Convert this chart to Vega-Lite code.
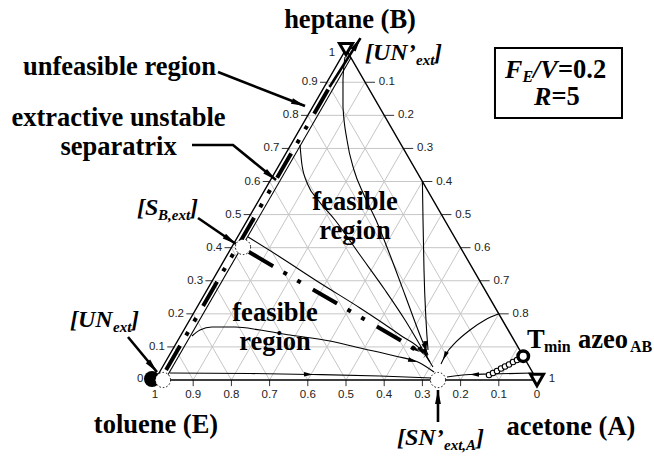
{
  "$schema": "https://vega.github.io/schema/vega-lite/v6.json",
  "width": 654,
  "height": 456,
  "autosize": "none",
  "padding": 0,
  "background": "white",
  "config": {"view": {"stroke": null}},
  "datasets": {
    "grid": [
      {"x":0.05,"y":0.0866,"x2":0.95,"y2":0.0866},{"x":0.1,"y":0.1732,"x2":0.9,"y2":0.1732},{"x":0.15,"y":0.2598,"x2":0.85,"y2":0.2598},
      {"x":0.2,"y":0.3464,"x2":0.8,"y2":0.3464},{"x":0.25,"y":0.433,"x2":0.75,"y2":0.433},{"x":0.3,"y":0.5196,"x2":0.7,"y2":0.5196},
      {"x":0.35,"y":0.6062,"x2":0.65,"y2":0.6062},{"x":0.4,"y":0.6928,"x2":0.6,"y2":0.6928},{"x":0.45,"y":0.7794,"x2":0.55,"y2":0.7794},
      {"x":0.1,"y":0,"x2":0.55,"y2":0.7794},{"x":0.2,"y":0,"x2":0.6,"y2":0.6928},{"x":0.3,"y":0,"x2":0.65,"y2":0.6062},
      {"x":0.4,"y":0,"x2":0.7,"y2":0.5196},{"x":0.5,"y":0,"x2":0.75,"y2":0.433},{"x":0.6,"y":0,"x2":0.8,"y2":0.3464},
      {"x":0.7,"y":0,"x2":0.85,"y2":0.2598},{"x":0.8,"y":0,"x2":0.9,"y2":0.1732},{"x":0.9,"y":0,"x2":0.95,"y2":0.0866},
      {"x":0.1,"y":0,"x2":0.05,"y2":0.0866},{"x":0.2,"y":0,"x2":0.1,"y2":0.1732},{"x":0.3,"y":0,"x2":0.15,"y2":0.2598},
      {"x":0.4,"y":0,"x2":0.2,"y2":0.3464},{"x":0.5,"y":0,"x2":0.25,"y2":0.433},{"x":0.6,"y":0,"x2":0.3,"y2":0.5196},
      {"x":0.7,"y":0,"x2":0.35,"y2":0.6062},{"x":0.8,"y":0,"x2":0.4,"y2":0.6928},{"x":0.9,"y":0,"x2":0.45,"y2":0.7794}
    ],
    "ticks": [
      {"x":0.05,"y":0.0866,"x2":0.032,"y2":0.0866},{"x":0.1,"y":0.1732,"x2":0.082,"y2":0.1732},{"x":0.15,"y":0.2598,"x2":0.132,"y2":0.2598},
      {"x":0.2,"y":0.3464,"x2":0.182,"y2":0.3464},{"x":0.25,"y":0.433,"x2":0.232,"y2":0.433},{"x":0.3,"y":0.5196,"x2":0.282,"y2":0.5196},
      {"x":0.35,"y":0.6062,"x2":0.332,"y2":0.6062},{"x":0.4,"y":0.6928,"x2":0.382,"y2":0.6928},{"x":0.45,"y":0.7794,"x2":0.432,"y2":0.7794},
      {"x":0.9,"y":0.1732,"x2":0.926,"y2":0.1732},{"x":0.85,"y":0.2598,"x2":0.876,"y2":0.2598},{"x":0.8,"y":0.3464,"x2":0.826,"y2":0.3464},
      {"x":0.75,"y":0.433,"x2":0.776,"y2":0.433},{"x":0.7,"y":0.5196,"x2":0.726,"y2":0.5196},{"x":0.65,"y":0.6062,"x2":0.676,"y2":0.6062},
      {"x":0.6,"y":0.6928,"x2":0.626,"y2":0.6928},{"x":0.55,"y":0.7794,"x2":0.576,"y2":0.7794},
      {"x":0.1,"y":0,"x2":0.1,"y2":-0.016},{"x":0.2,"y":0,"x2":0.2,"y2":-0.016},{"x":0.3,"y":0,"x2":0.3,"y2":-0.016},
      {"x":0.4,"y":0,"x2":0.4,"y2":-0.016},{"x":0.5,"y":0,"x2":0.5,"y2":-0.016},{"x":0.6,"y":0,"x2":0.6,"y2":-0.016},
      {"x":0.7,"y":0,"x2":0.7,"y2":-0.016},{"x":0.8,"y":0,"x2":0.8,"y2":-0.016},{"x":0.9,"y":0,"x2":0.9,"y2":-0.016}
    ],
    "frame": [
      {"i":0,"x":0,"y":0},{"i":1,"x":1,"y":0},{"i":2,"x":0.5,"y":0.866},{"i":3,"x":0,"y":0}
    ],
    "curves": [
      {"c":"inner","i":0,"x":0.026,"y":0},{"c":"inner","i":1,"x":0.513,"y":0.8435},
      {"c":"c1","i":0,"x":0.039,"y":0.0183},{"c":"c1","i":1,"x":0.2487,"y":0.017},{"c":"c1","i":2,"x":0.4136,"y":0.0144},{"c":"c1","i":3,"x":0.589,"y":0.0105},{"c":"c1","i":4,"x":0.7251,"y":0.0052},
      {"c":"c2","i":0,"x":0.9895,"y":0.0183},{"c":"c2","i":1,"x":0.877,"y":0.0157},{"c":"c2","i":2,"x":0.8246,"y":0.0144},{"c":"c2","i":3,"x":0.7644,"y":0.0079},
      {"c":"c4","i":0,"x":0.0969,"y":0.1152},{"c":"c4","i":1,"x":0.1178,"y":0.1309},{"c":"c4","i":2,"x":0.1492,"y":0.1387},{"c":"c4","i":3,"x":0.2094,"y":0.1387},
      {"c":"c4","i":4,"x":0.2749,"y":0.1309},{"c":"c4","i":5,"x":0.3534,"y":0.1178},{"c":"c4","i":6,"x":0.4581,"y":0.1021},{"c":"c4","i":7,"x":0.5366,"y":0.0838},
      {"c":"c4","i":8,"x":0.6283,"y":0.0628},{"c":"c4","i":9,"x":0.6937,"y":0.0445},{"c":"c4","i":10,"x":0.7304,"y":0.0209},
      {"c":"c6","i":0,"x":0.2435,"y":0.3743},{"c":"c6","i":1,"x":0.3272,"y":0.322},{"c":"c6","i":2,"x":0.4319,"y":0.2539},{"c":"c6","i":3,"x":0.5366,"y":0.1885},
      {"c":"c6","i":4,"x":0.6414,"y":0.1178},{"c":"c6","i":5,"x":0.7016,"y":0.0733},{"c":"c6","i":6,"x":0.7277,"y":0.034},
      {"c":"c7","i":0,"x":0.3796,"y":0.6152},{"c":"c7","i":1,"x":0.3848,"y":0.5628},{"c":"c7","i":2,"x":0.4005,"y":0.5105},{"c":"c7","i":3,"x":0.4267,"y":0.4712},
      {"c":"c7","i":4,"x":0.4712,"y":0.4188},{"c":"c7","i":5,"x":0.5366,"y":0.3272},{"c":"c7","i":6,"x":0.6021,"y":0.2356},{"c":"c7","i":7,"x":0.6545,"y":0.1571},
      {"c":"c7","i":8,"x":0.6937,"y":0.0916},{"c":"c7","i":9,"x":0.7199,"y":0.0471},
      {"c":"c8","i":0,"x":0.4974,"y":0.8455},{"c":"c8","i":1,"x":0.4921,"y":0.7853},{"c":"c8","i":2,"x":0.4921,"y":0.7147},{"c":"c8","i":3,"x":0.5026,"y":0.6283},
      {"c":"c8","i":4,"x":0.5209,"y":0.5497},{"c":"c8","i":5,"x":0.5471,"y":0.4843},{"c":"c8","i":6,"x":0.5785,"y":0.4188},{"c":"c8","i":7,"x":0.6152,"y":0.3272},
      {"c":"c8","i":8,"x":0.6545,"y":0.2225},{"c":"c8","i":9,"x":0.6885,"y":0.1309},{"c":"c8","i":10,"x":0.7147,"y":0.0654},
      {"c":"c9","i":0,"x":0.7,"y":0.5196},{"c":"c9","i":1,"x":0.7016,"y":0.4188},{"c":"c9","i":2,"x":0.7042,"y":0.288},{"c":"c9","i":3,"x":0.7094,"y":0.1571},{"c":"c9","i":4,"x":0.7147,"y":0.0785},
      {"c":"c10","i":0,"x":0.9,"y":0.1732},{"c":"c10","i":1,"x":0.8639,"y":0.1571},{"c":"c10","i":2,"x":0.8246,"y":0.1309},{"c":"c10","i":3,"x":0.788,"y":0.0995},
      {"c":"c10","i":4,"x":0.7618,"y":0.0681},{"c":"c10","i":5,"x":0.7487,"y":0.0419}
    ],
    "separatrices": [
      {"c":"edge","i":0,"x":0.029,"y":0.026},{"c":"edge","i":1,"x":0.457,"y":0.767},
      {"c":"sb","i":0,"x":0.2461,"y":0.3351},{"c":"sb","i":1,"x":0.3796,"y":0.2565},{"c":"sb","i":2,"x":0.5105,"y":0.1806},{"c":"sb","i":3,"x":0.6414,"y":0.1047},{"c":"sb","i":4,"x":0.7068,"y":0.0628}
    ],
    "pointers": [
      {"c":"p1","i":0,"x":0.1649,"y":0.8063},{"c":"p1","i":1,"x":0.3927,"y":0.7173},
      {"c":"p2","i":0,"x":0.0969,"y":0.6152},{"c":"p2","i":1,"x":0.2042,"y":0.6152},{"c":"p2","i":2,"x":0.3168,"y":0.5236},
      {"c":"p3","i":0,"x":0.1126,"y":0.4241},{"c":"p3","i":1,"x":0.212,"y":0.356},
      {"c":"p4","i":0,"x":-0.0707,"y":0.1126},{"c":"p4","i":1,"x":0.0052,"y":0.0209},
      {"c":"p5","i":0,"x":0.7408,"y":-0.1099},{"c":"p5","i":1,"x":0.7408,"y":-0.0262},
      {"c":"p6","i":0,"x":0.457,"y":0.767},{"c":"p6","i":1,"x":0.538,"y":0.895}
    ],
    "pointerHeads": [
      {"x":0.3927,"y":0.7173,"ang":111},{"x":0.3168,"y":0.5236,"ang":129},{"x":0.212,"y":0.356,"ang":124},
      {"x":0.0052,"y":0.0209,"ang":140},{"x":0.7408,"y":-0.0262,"ang":0},{"x":0.538,"y":0.895,"ang":32}
    ],
    "flowHeads": [
      {"x":0.4136,"y":0.0144,"ang":91},{"x":0.8246,"y":0.0144,"ang":270},{"x":0.6859,"y":0.0471,"ang":106},
      {"x":0.7147,"y":0.0602,"ang":150},{"x":0.712,"y":0.0733,"ang":158},{"x":0.7094,"y":0.0785,"ang":176},
      {"x":0.7042,"y":0.0654,"ang":146},{"x":0.6937,"y":0.0733,"ang":122},{"x":0.7539,"y":0.0524,"ang":205}
    ],
    "chain": [
      {"x":0.8743,"y":0.0131},{"x":0.8848,"y":0.0183},{"x":0.8953,"y":0.0236},{"x":0.9058,"y":0.0301},
      {"x":0.9162,"y":0.0353},{"x":0.9267,"y":0.0406},{"x":0.9372,"y":0.0471},{"x":0.9476,"y":0.0524}
    ],
    "singular": [
      {"x":0.2304,"y":0.3482},{"x":0.7408,"y":0},{"x":0.0209,"y":0}
    ],
    "boxes": [{"x":0.89,"y":0.6859,"x2":1.2225,"y2":0.8691}],
    "tickLeft": [
      {"x":0.026,"y":0.0866,"t":"0.1"},{"x":0.076,"y":0.1732,"t":"0.2"},{"x":0.126,"y":0.2598,"t":"0.3"},
      {"x":0.176,"y":0.3464,"t":"0.4"},{"x":0.226,"y":0.433,"t":"0.5"},{"x":0.276,"y":0.5196,"t":"0.6"},
      {"x":0.326,"y":0.6062,"t":"0.7"},{"x":0.376,"y":0.6928,"t":"0.8"},{"x":0.426,"y":0.7794,"t":"0.9"}
    ],
    "tickRight": [
      {"x":0.586,"y":0.7794,"t":"0.1"},{"x":0.636,"y":0.6928,"t":"0.2"},{"x":0.686,"y":0.6062,"t":"0.3"},
      {"x":0.736,"y":0.5196,"t":"0.4"},{"x":0.786,"y":0.433,"t":"0.5"},{"x":0.836,"y":0.3464,"t":"0.6"},
      {"x":0.886,"y":0.2598,"t":"0.7"},{"x":0.936,"y":0.1732,"t":"0.8"}
    ],
    "tickCenter": [
      {"x":0,"y":-0.0393,"t":"1"},{"x":0.1,"y":-0.0393,"t":"0.9"},{"x":0.2,"y":-0.0393,"t":"0.8"},{"x":0.3,"y":-0.0393,"t":"0.7"},
      {"x":0.4,"y":-0.0393,"t":"0.6"},{"x":0.5,"y":-0.0393,"t":"0.5"},{"x":0.6,"y":-0.0393,"t":"0.4"},{"x":0.7,"y":-0.0393,"t":"0.3"},
      {"x":0.8,"y":-0.0393,"t":"0.2"},{"x":0.9,"y":-0.0393,"t":"0.1"},{"x":1,"y":-0.0393,"t":"0"},
      {"x":-0.039,"y":0.002,"t":"0"},{"x":0.463,"y":0.856,"t":"1"},{"x":1.039,"y":0.002,"t":"1"}
    ],
    "titles": [
      {"x":0.5105,"y":0.9424,"t":"heptane (B)"},{"x":0.0026,"y":-0.1178,"t":"toluene (E)"},{"x":1.089,"y":-0.123,"t":"acetone (A)"},
      {"x":0.5236,"y":0.466,"t":"feasible"},{"x":0.5236,"y":0.39,"t":"region"},
      {"x":0.3141,"y":0.1754,"t":"feasible"},{"x":0.3141,"y":0.0995,"t":"region"},
      {"x":-0.0929,"y":0.8194,"t":"unfeasible region"},{"x":-0.0955,"y":0.6859,"t":"extractive unstable"},{"x":-0.0955,"y":0.6099,"t":"separatrix"}
    ],
    "italicMain": [
      {"x":0.5497,"y":0.856,"t":"[UN’"},{"x":0.7304,"y":0.856,"t":"]"},
      {"x":-0.0471,"y":0.4503,"t":"[S"},{"x":0.0916,"y":0.4503,"t":"]"},
      {"x":-0.2225,"y":0.1571,"t":"[UN"},{"x":-0.0628,"y":0.1571,"t":"]"},
      {"x":0.6335,"y":-0.1518,"t":"[SN’"},{"x":0.8403,"y":-0.1518,"t":"]"}
    ],
    "italicSub": [
      {"x":0.6832,"y":0.8377,"t":"ext"},{"x":0.0079,"y":0.4319,"t":"B,ext"},{"x":-0.1099,"y":0.1387,"t":"ext"},
      {"x":0.7565,"y":-0.1702,"t":"ext,A"}
    ],
    "boxItalic": [
      {"x":0.9162,"y":0.8115,"t":"F"},{"x":0.9895,"y":0.8115,"t":"/V"},{"x":0.9921,"y":0.7408,"t":"R"}
    ],
    "boxItalicSub": [
      {"x":0.962,"y":0.7932,"t":"E"}
    ],
    "uprightMain": [
      {"x":0.9738,"y":0.1047,"t":"T"},{"x":1.1073,"y":0.1047,"t":"azeo"},
      {"x":1.055,"y":0.8115,"t":"=0.2"},{"x":1.038,"y":0.7408,"t":"=5"}
    ],
    "uprightSub": [
      {"x":1.0183,"y":0.0864,"t":"min"},{"x":1.2435,"y":0.0864,"t":"AB"}
    ]
  },
  "encoding": {
    "x": {"field": "x", "type": "quantitative", "axis": null, "scale": {"domain": [-0.40576, 1.30628], "nice": false, "zero": false}},
    "y": {"field": "y", "type": "quantitative", "axis": null, "scale": {"domain": [-0.19895, 0.99476], "nice": false, "zero": false}}
  },
  "layer": [
    {"data": {"name": "grid"}, "mark": {"type": "rule", "stroke": "#c6c6c6", "strokeWidth": 1},
     "encoding": {"x2": {"field": "x2"}, "y2": {"field": "y2"}}},
    {"data": {"name": "ticks"}, "mark": {"type": "rule", "stroke": "#333333", "strokeWidth": 1},
     "encoding": {"x2": {"field": "x2"}, "y2": {"field": "y2"}}},
    {"data": {"name": "frame"}, "mark": {"type": "line", "stroke": "black", "strokeWidth": 1.4, "strokeJoin": "miter"},
     "encoding": {"order": {"field": "i", "type": "quantitative"}}},
    {"data": {"name": "curves"}, "mark": {"type": "line", "stroke": "black", "strokeWidth": 1.1, "interpolate": "monotone"},
     "encoding": {"detail": {"field": "c"}, "order": {"field": "i", "type": "quantitative"}}},
    {"data": {"name": "separatrices"}, "mark": {"type": "line", "stroke": "black", "strokeWidth": 4, "strokeCap": "butt", "strokeDash": [28, 12, 4, 12, 4, 14]},
     "encoding": {"detail": {"field": "c"}, "order": {"field": "i", "type": "quantitative"}}},
    {"data": {"name": "pointers"}, "mark": {"type": "line", "stroke": "black", "strokeWidth": 2.6, "strokeJoin": "miter"},
     "encoding": {"detail": {"field": "c"}, "order": {"field": "i", "type": "quantitative"}}},
    {"data": {"name": "pointerHeads"}, "mark": {"type": "point", "shape": "M0,0L0.42,2L-0.42,2Z", "filled": true, "fill": "black", "opacity": 1, "size": 196},
     "encoding": {"angle": {"field": "ang", "type": "quantitative", "scale": null}}},
    {"data": {"name": "flowHeads"}, "mark": {"type": "point", "shape": "M0,0L0.5,2L-0.5,2Z", "filled": true, "fill": "black", "opacity": 1, "size": 81},
     "encoding": {"angle": {"field": "ang", "type": "quantitative", "scale": null}}},
    {"data": {"name": "chain"}, "mark": {"type": "point", "shape": "circle", "filled": true, "fill": "white", "stroke": "black", "strokeWidth": 1.1, "opacity": 1, "size": 30}},
    {"data": {"values": [{"x": -0.0079, "y": 0.0026}]}, "mark": {"type": "point", "shape": "circle", "filled": true, "fill": "black", "opacity": 1, "size": 256}},
    {"data": {"name": "singular"}, "mark": {"type": "point", "shape": "circle", "filled": true, "fill": "white", "stroke": "black", "strokeWidth": 1, "strokeDash": [1.5, 2], "opacity": 1, "size": 230}},
    {"data": {"values": [{"x": 0.964, "y": 0.0624}]}, "mark": {"type": "point", "shape": "circle", "filled": true, "fill": "white", "stroke": "black", "strokeWidth": 3.5, "opacity": 1, "size": 110}},
    {"data": {"values": [{"x": 0.5, "y": 0.866}, {"x": 1, "y": 0}]}, "mark": {"type": "point", "shape": "triangle-down", "filled": true, "fill": "white", "stroke": "black", "strokeWidth": 3, "opacity": 1, "size": 170}},
    {"data": {"name": "boxes"}, "mark": {"type": "rect", "fill": "white", "stroke": "black", "strokeWidth": 2},
     "encoding": {"x2": {"field": "x2"}, "y2": {"field": "y2"}}},
    {"data": {"name": "tickLeft"}, "mark": {"type": "text", "align": "right", "baseline": "middle", "font": "Liberation Sans", "fontSize": 11.5, "fill": "#222222"},
     "encoding": {"text": {"field": "t"}}},
    {"data": {"name": "tickRight"}, "mark": {"type": "text", "align": "left", "baseline": "middle", "font": "Liberation Sans", "fontSize": 11.5, "fill": "#222222"},
     "encoding": {"text": {"field": "t"}}},
    {"data": {"name": "tickCenter"}, "mark": {"type": "text", "align": "center", "baseline": "middle", "font": "Liberation Sans", "fontSize": 11.5, "fill": "#222222"},
     "encoding": {"text": {"field": "t"}}},
    {"data": {"name": "titles"}, "mark": {"type": "text", "align": "center", "baseline": "middle", "font": "Liberation Serif", "fontWeight": "bold", "fontSize": 26.5, "fill": "black"},
     "encoding": {"text": {"field": "t"}}},
    {"data": {"name": "italicMain"}, "mark": {"type": "text", "align": "left", "baseline": "middle", "font": "Liberation Serif", "fontWeight": "bold", "fontStyle": "italic", "fontSize": 24, "fill": "black"},
     "encoding": {"text": {"field": "t"}}},
    {"data": {"name": "italicSub"}, "mark": {"type": "text", "align": "left", "baseline": "middle", "font": "Liberation Serif", "fontWeight": "bold", "fontStyle": "italic", "fontSize": 15, "fill": "black"},
     "encoding": {"text": {"field": "t"}}},
    {"data": {"name": "boxItalic"}, "mark": {"type": "text", "align": "left", "baseline": "middle", "font": "Liberation Serif", "fontWeight": "bold", "fontStyle": "italic", "fontSize": 26, "fill": "black"},
     "encoding": {"text": {"field": "t"}}},
    {"data": {"name": "boxItalicSub"}, "mark": {"type": "text", "align": "left", "baseline": "middle", "font": "Liberation Serif", "fontWeight": "bold", "fontStyle": "italic", "fontSize": 16, "fill": "black"},
     "encoding": {"text": {"field": "t"}}},
    {"data": {"name": "uprightMain"}, "mark": {"type": "text", "align": "left", "baseline": "middle", "font": "Liberation Serif", "fontWeight": "bold", "fontSize": 26.5, "fill": "black"},
     "encoding": {"text": {"field": "t"}}},
    {"data": {"name": "uprightSub"}, "mark": {"type": "text", "align": "left", "baseline": "middle", "font": "Liberation Serif", "fontWeight": "bold", "fontSize": 16, "fill": "black"},
     "encoding": {"text": {"field": "t"}}}
  ]
}
